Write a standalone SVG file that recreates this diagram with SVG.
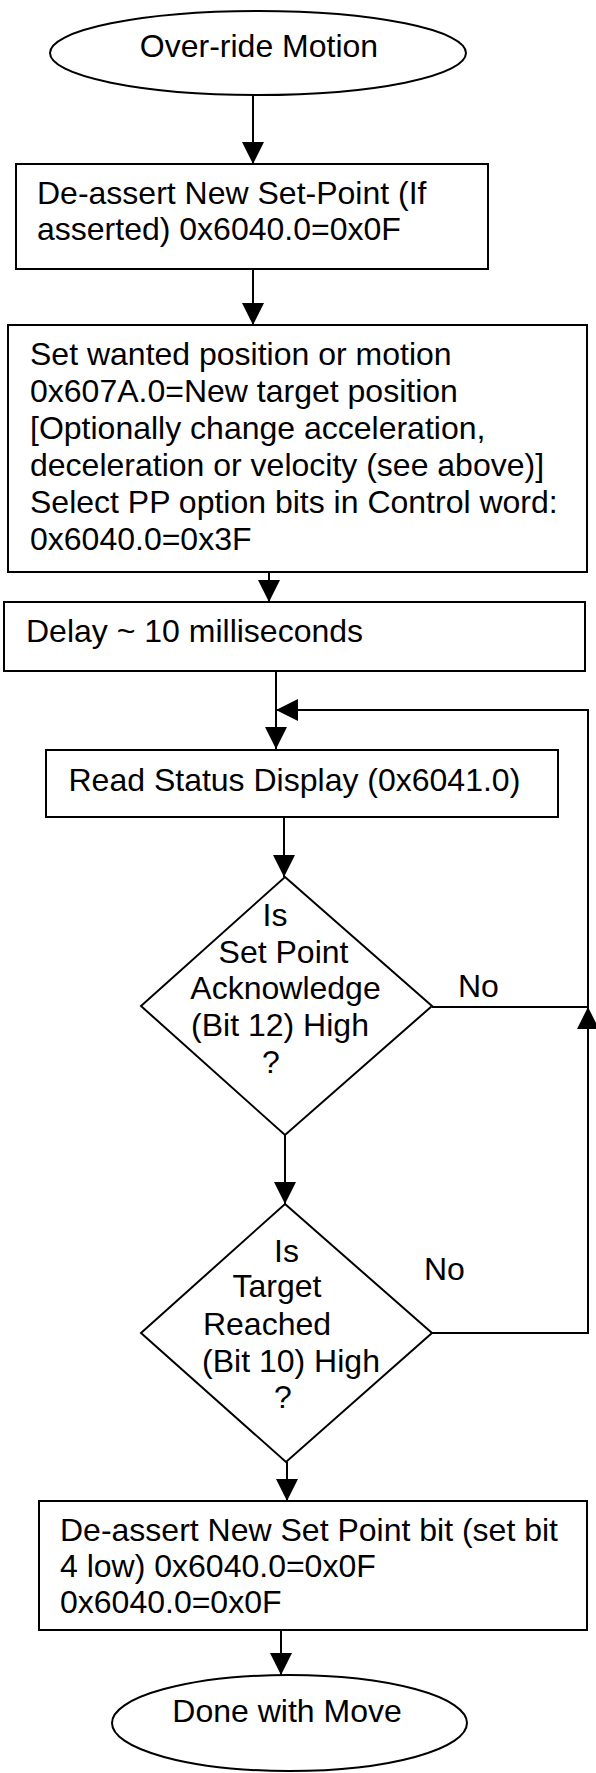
<svg xmlns="http://www.w3.org/2000/svg" width="596" height="1773" viewBox="0 0 596 1773">
<style>
.shape{fill:#fff;stroke:#000;stroke-width:2}
.t{font-family:"Liberation Sans",Arial,sans-serif;font-size:32px;fill:#000}
.m{text-anchor:middle}
.c{fill:none;stroke:#000;stroke-width:2}
</style>
<defs>
<marker id="ah" markerUnits="userSpaceOnUse" markerWidth="22" markerHeight="22" refX="22" refY="11" orient="auto" viewBox="0 0 22 22">
<path d="M0,0 L22,11 L0,22 z" fill="#000"/>
</marker>
</defs>
<g id="connectors">
<line class="c" x1="253" y1="96" x2="253" y2="164" marker-end="url(#ah)"/>
<line class="c" x1="253" y1="269" x2="253" y2="325" marker-end="url(#ah)"/>
<line class="c" x1="269" y1="572" x2="269" y2="602" marker-end="url(#ah)"/>
<line class="c" x1="276" y1="671" x2="276" y2="749" marker-end="url(#ah)"/>
<line class="c" x1="284" y1="817" x2="284" y2="877" marker-end="url(#ah)"/>
<line class="c" x1="285" y1="1135" x2="285" y2="1204" marker-end="url(#ah)"/>
<line class="c" x1="287" y1="1462" x2="287" y2="1501" marker-end="url(#ah)"/>
<line class="c" x1="281" y1="1630" x2="281" y2="1675" marker-end="url(#ah)"/>
<polyline class="c" points="432,1333 588,1333 588,1007" marker-end="url(#ah)"/>
<polyline class="c" points="432,1007 588,1007 588,710 276,710" marker-end="url(#ah)"/>
</g>
<g id="start">
<ellipse class="shape" cx="258" cy="53" rx="208" ry="42"/>
<text class="t m" x="259" y="57">Over-ride Motion</text>
</g>
<g id="deassert1">
<rect class="shape" x="16" y="164" width="472" height="105"/>
<text class="t" x="37" y="204">De-assert New Set-Point (If</text>
<text class="t" x="37" y="240">asserted) 0x6040.0=0x0F</text>
</g>
<g id="setpos">
<rect class="shape" x="8" y="325" width="579" height="247"/>
<text class="t" x="30" y="365">Set wanted position or motion</text>
<text class="t" x="30" y="402">0x607A.0=New target position</text>
<text class="t" x="30" y="439">[Optionally change acceleration,</text>
<text class="t" x="30" y="476">deceleration or velocity (see above)]</text>
<text class="t" x="30" y="513">Select PP option bits in Control word:</text>
<text class="t" x="30" y="550">0x6040.0=0x3F</text>
</g>
<g id="delay">
<rect class="shape" x="4" y="602" width="581" height="69"/>
<text class="t" x="26" y="642">Delay ~ 10 milliseconds</text>
</g>
<g id="readstatus">
<rect class="shape" x="46" y="750" width="512" height="67"/>
<text class="t" x="68.5" y="791">Read Status Display (0x6041.0)</text>
</g>
<g id="decision1">
<polygon class="shape" points="285,877 432,1006 285,1135 141,1006"/>
<text class="t m" x="275" y="926">Is</text>
<text class="t m" x="283.5" y="963">Set Point</text>
<text class="t m" x="285.5" y="999">Acknowledge</text>
<text class="t m" x="280" y="1036">(Bit 12) High</text>
<text class="t m" x="271" y="1073">?</text>
</g>
<text class="t" x="458" y="997">No</text>
<g id="decision2">
<polygon class="shape" points="285,1204 432,1333 286,1462 141,1333"/>
<text class="t m" x="286.5" y="1262">Is</text>
<text class="t m" x="277" y="1297">Target</text>
<text class="t m" x="267" y="1335">Reached</text>
<text class="t m" x="291" y="1372">(Bit 10) High</text>
<text class="t m" x="283" y="1408">?</text>
</g>
<text class="t" x="424" y="1280">No</text>
<g id="deassert2">
<rect class="shape" x="39" y="1501" width="548" height="129"/>
<text class="t" x="60" y="1541">De-assert New Set Point bit (set bit</text>
<text class="t" x="60" y="1577">4 low) 0x6040.0=0x0F</text>
<text class="t" x="60" y="1613">0x6040.0=0x0F</text>
</g>
<g id="end">
<ellipse class="shape" cx="289.5" cy="1723" rx="177.5" ry="48"/>
<text class="t m" x="287" y="1722">Done with Move</text>
</g>
</svg>
